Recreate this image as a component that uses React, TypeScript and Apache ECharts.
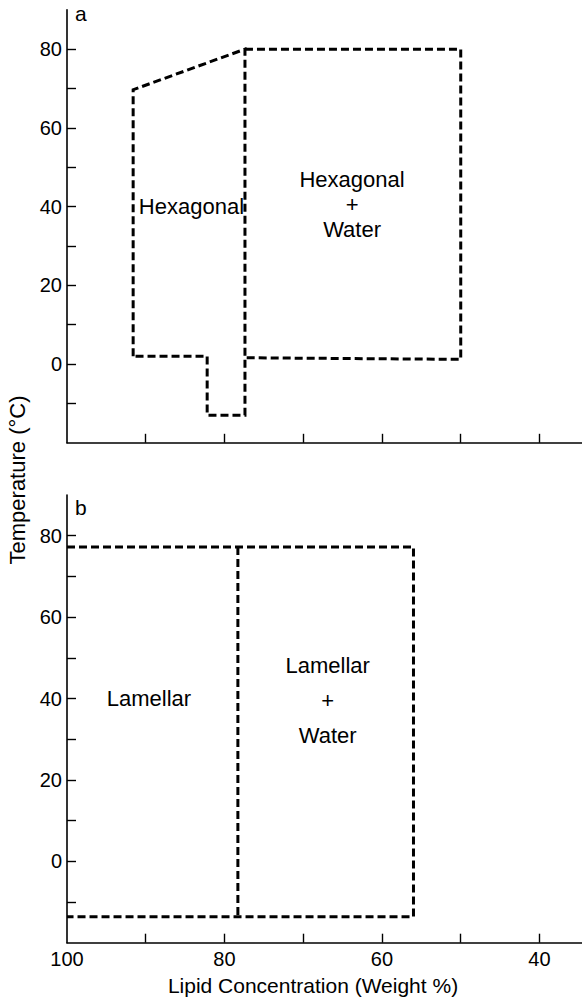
import React, { useEffect, useRef } from "react";
import * as echarts from "echarts";

// Panel a (hexagonal) phase boundaries: [lipid %, temperature °C]
const panelAHexagonal = [
  [91.6, 2], [91.6, 69.7], [77.4, 80], [77.4, -13], [82.2, -13], [82.2, 2], [91.6, 2],
];
const panelAHexWater = [
  [77.4, 80], [50, 80], [50, 1.2], [77.3, 1.6],
];
// Panel b (lamellar) phase boundaries
const panelBOuter = [
  [100, 77.2], [56, 77.2], [56, -13.6], [100, -13.6],
];
const panelBDivider = [
  [78.3, 77.2], [78.3, -13.6],
];

// Region labels (anchor in data coordinates)
const panelALabels = [
  { text: "Hexagonal", x: 84.2, y: 40, lh: 25 },
  { text: "Hexagonal\n+\nWater", x: 63.8, y: 40.5, lh: 25 },
];
const panelBLabels = [
  { text: "Lamellar", x: 89.6, y: 40, lh: 35 },
  { text: "Lamellar\n+\nWater", x: 66.9, y: 39.5, lh: 35 },
];

// Axis ticks / labels
const xTickValues = [90, 80, 70, 60, 50, 40];
const xLabelValuesB = [100, 80, 60, 40];
const yTickValues = [-10, 0, 10, 20, 30, 40, 50, 60, 70, 80];
const yLabelValues = [0, 20, 40, 60, 80];

const FONT = "'Liberation Sans', Arial, Helvetica, sans-serif";

export default function App() {
  const ref = useRef<HTMLDivElement>(null);
  useEffect(() => {
    if (!ref.current) return;
    const chart = echarts.init(ref.current, null, { renderer: "svg" });
    const axisLine = { show: true, onZero: false, lineStyle: { color: "#000", width: 1.6 } };
    const dashed = {
      color: "#000",
      width: 3,
      type: [8, 4] as any,
      cap: "butt" as any,
      join: "miter" as any,
    };
    const mkX = (gridIndex: number, labels: number[] | null) => ({
      type: "value",
      gridIndex,
      min: 34.6,
      max: 100,
      inverse: true,
      axisLine,
      splitLine: { show: false },
      axisTick: {
        show: true,
        inside: true,
        length: 9,
        customValues: xTickValues,
        lineStyle: { color: "#000", width: 1.4 },
      },
      axisLabel: labels
        ? {
            show: true,
            customValues: labels,
            margin: 6,
            color: "#000",
            fontSize: 20,
            fontFamily: FONT,
          }
        : { show: false },
    });
    const mkY = (gridIndex: number) => ({
      type: "value",
      gridIndex,
      min: -20,
      max: 90,
      axisLine,
      splitLine: { show: false },
      axisTick: {
        show: true,
        inside: true,
        length: 9,
        customValues: yTickValues,
        lineStyle: { color: "#000", width: 1.4 },
      },
      axisLabel: {
        show: true,
        customValues: yLabelValues,
        margin: 5,
        color: "#000",
        fontSize: 20,
        fontFamily: FONT,
      },
    });
    const lineSeries = (data: number[][], idx: number) => ({
      type: "line",
      xAxisIndex: idx,
      yAxisIndex: idx,
      data,
      symbol: "none",
      silent: true,
      clip: false,
      lineStyle: dashed,
    });
    const labelSeries = (
      items: { text: string; x: number; y: number; lh: number }[],
      idx: number
    ) => ({
      type: "scatter",
      xAxisIndex: idx,
      yAxisIndex: idx,
      symbolSize: 0,
      silent: true,
      itemStyle: { opacity: 1 },
      data: items.map((it) => ({
        value: [it.x, it.y],
        label: {
          show: true,
          position: "inside",
          formatter: it.text,
          lineHeight: it.lh,
          color: "#000",
          opacity: 1,
          fontSize: 22,
          fontFamily: FONT,
          align: "center",
          verticalAlign: "middle",
        },
      })),
    });
    chart.setOption({
      animation: false,
      backgroundColor: "#fff",
      grid: [
        { left: 67, top: 9.8, width: 515, height: 433 },
        { left: 67, top: 495, width: 515, height: 447.7 },
      ],
      xAxis: [mkX(0, null), mkX(1, xLabelValuesB)],
      yAxis: [mkY(0), mkY(1)],
      series: [
        lineSeries(panelAHexagonal, 0),
        lineSeries(panelAHexWater, 0),
        lineSeries(panelBOuter, 1),
        lineSeries(panelBDivider, 1),
        labelSeries(panelALabels, 0),
        labelSeries(panelBLabels, 1),
      ],
      graphic: [
        {
          type: "text",
          x: 75,
          y: 3,
          style: { text: "a", fontSize: 21, fontFamily: FONT, fill: "#000" },
        },
        {
          type: "text",
          x: 75,
          y: 497,
          style: { text: "b", fontSize: 21, fontFamily: FONT, fill: "#000" },
        },
        {
          type: "text",
          x: 17,
          y: 480,
          rotation: Math.PI / 2,
          style: {
            text: "Temperature (°C)",
            fontSize: 22,
            fontFamily: FONT,
            fill: "#000",
            align: "center",
            verticalAlign: "middle",
          },
        },
        {
          type: "text",
          x: 313,
          y: 985,
          style: {
            text: "Lipid Concentration (Weight %)",
            fontSize: 21,
            fontFamily: FONT,
            fill: "#000",
            align: "center",
            verticalAlign: "middle",
          },
        },
      ],
    });
    return () => chart.dispose();
  }, []);
  return (
    <div
      ref={ref}
      style={{ position: "absolute", left: 0, top: 0, width: 582, height: 999 }}
    />
  );
}
